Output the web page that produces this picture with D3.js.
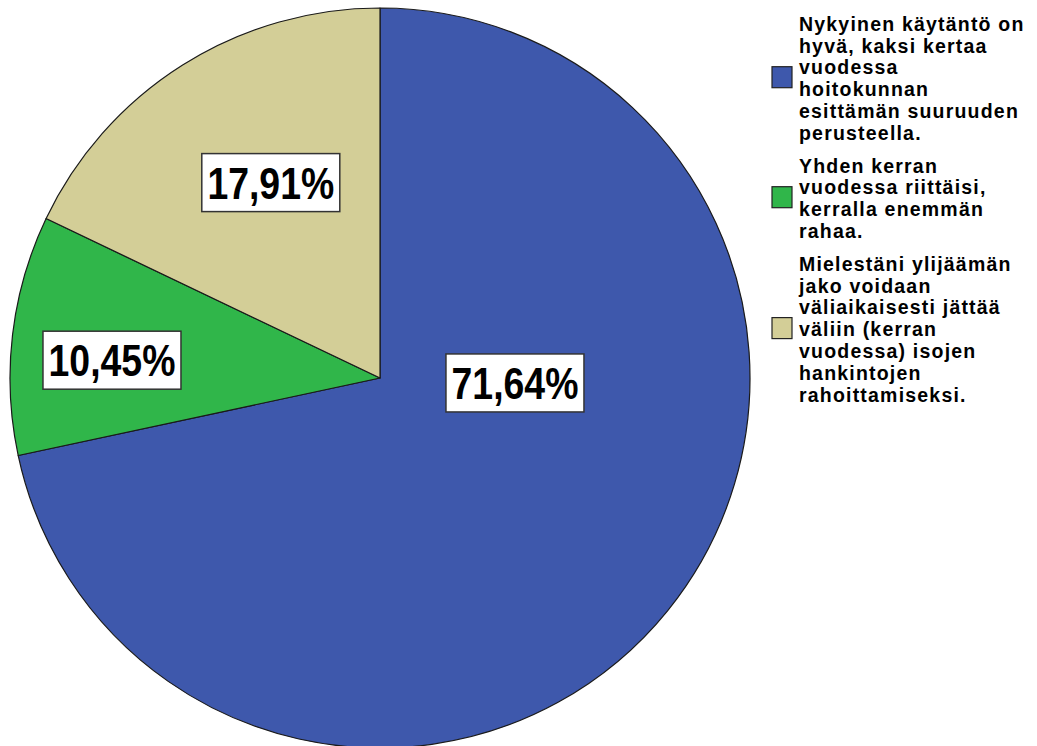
<!DOCTYPE html>
<html>
<head>
<meta charset="utf-8">
<script src="https://cdn.jsdelivr.net/npm/d3@7"></script>
<style>
  html, body { margin: 0; padding: 0; background: #fff; }
  svg { display: block; }
</style>
</head>
<body>
<svg id="chart" width="1037" height="746"></svg>
<script>
// ---- data ----
const categories = [
  "Nykyinen käytäntö on hyvä, kaksi kertaa vuodessa hoitokunnan esittämän suuruuden perusteella.",
  "Yhden kerran vuodessa riittäisi, kerralla enemmän rahaa.",
  "Mielestäni ylijäämän jako voidaan väliaikaisesti jättää väliin (kerran vuodessa) isojen hankintojen rahoittamiseksi."
];
const percentages = [71.64, 10.45, 17.91];
const legendLines = [
  ["Nykyinen käytäntö on", "hyvä, kaksi kertaa", "vuodessa", "hoitokunnan", "esittämän suuruuden", "perusteella."],
  ["Yhden kerran", "vuodessa riittäisi,", "kerralla enemmän", "rahaa."],
  ["Mielestäni ylijäämän", "jako voidaan", "väliaikaisesti jättää", "väliin (kerran", "vuodessa) isojen", "hankintojen", "rahoittamiseksi."]
];
const colors = ["#3e58ac", "#30b64a", "#d3ce97"];

// ---- layout (not data) ----
const cx = 380, cy = 378, radius = 370;
// label anchor: [clock angle in degrees, fraction of radius]
const labelAnchors = [[92.1, 0.365], [273.8, 0.726], [330.8, 0.605]];

const svg = d3.select("#chart");
const font = "'Liberation Sans', Arial, Helvetica, sans-serif";

const pie = d3.pie().sort(null).value(d => d).startAngle(0).endAngle(2 * Math.PI);
const arcs = pie(percentages);
const arc = d3.arc().innerRadius(0).outerRadius(radius);

const g = svg.append("g").attr("transform", `translate(${cx},${cy})`);
g.selectAll("path.slice")
  .data(arcs)
  .enter().append("path")
  .attr("class", "slice")
  .attr("d", arc)
  .attr("fill", (d, i) => colors[i])
  .attr("stroke", "#1a1a1a")
  .attr("stroke-width", 1.2)
  .attr("stroke-linejoin", "round");

// labels
const fmt = v => v.toFixed(2).replace(".", ",") + "%";
const angleScale = d3.scaleLinear().domain([0, 360]).range([0, 2 * Math.PI]);
const radialScale = d3.scaleLinear().domain([0, 1]).range([0, radius]);
const boxW = 138, boxH = 58;
const lab = g.selectAll("g.lab")
  .data(arcs)
  .enter().append("g")
  .attr("class", "lab")
  .attr("transform", (d, i) => {
    const a = angleScale(labelAnchors[i][0]);
    const r = radialScale(labelAnchors[i][1]);
    return `translate(${r * Math.sin(a)},${-r * Math.cos(a)})`;
  });
lab.append("rect")
  .attr("x", -boxW / 2).attr("y", -boxH / 2)
  .attr("width", boxW).attr("height", boxH)
  .attr("fill", "#fff")
  .attr("stroke", "#333")
  .attr("stroke-width", 1.5);
lab.append("text")
  .attr("transform", "scale(0.85,1)")
  .attr("x", 0).attr("y", 16)
  .attr("text-anchor", "middle")
  .attr("font-family", font)
  .attr("font-weight", "bold")
  .attr("font-size", 44)
  .attr("fill", "#000")
  .text((d, i) => fmt(percentages[i]));

// legend
const lineH = 21.8, itemGap = 11, legendX = 799, firstBaseline = 30.7;
let y = firstBaseline;
const legend = svg.append("g");
legendLines.forEach((lines, i) => {
  const item = legend.append("g");
  lines.forEach((ln, k) => {
    item.append("text")
      .attr("x", legendX)
      .attr("y", y + k * lineH)
      .attr("font-family", font)
      .attr("font-weight", "bold")
      .attr("font-size", 19.5)
      .attr("letter-spacing", 1.2)
      .attr("fill", "#000")
      .text(ln);
  });
  const midBaseline = y + (lines.length - 1) / 2 * lineH;
  item.append("rect")
    .attr("x", 772)
    .attr("y", midBaseline - 8 - 10.5)
    .attr("width", 20).attr("height", 21)
    .attr("fill", colors[i])
    .attr("stroke", "#222")
    .attr("stroke-width", 1.2);
  item.append("title").text(categories[i]);
  y += lines.length * lineH + itemGap;
});
</script>
</body>
</html>
